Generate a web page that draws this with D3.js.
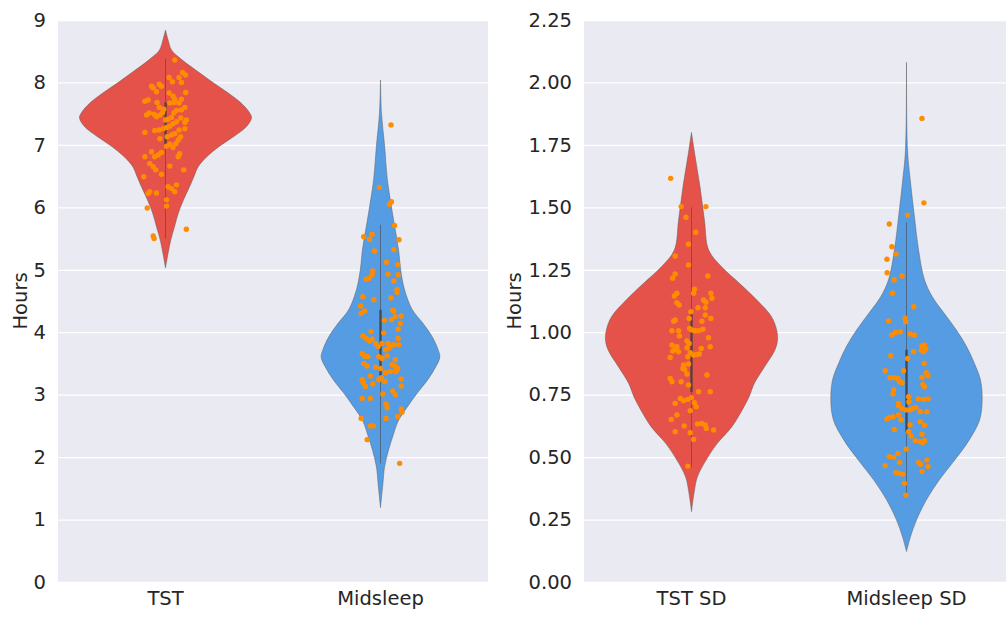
<!DOCTYPE html>
<html>
<head>
<meta charset="utf-8">
<script src="https://cdn.jsdelivr.net/npm/d3@7"></script>
<style>
  body { margin: 0; background: #fff; }
  text { font-family: "DejaVu Sans", sans-serif; fill: #262626; }
</style>
</head>
<body>
<script>
// categories and ticks
var leftCategories = ["TST", "Midsleep"];
var rightCategories = ["TST SD", "Midsleep SD"];
var leftTicks = [0, 1, 2, 3, 4, 5, 6, 7, 8, 9];
var rightTicks = [0, 0.25, 0.5, 0.75, 1, 1.25, 1.5, 1.75, 2, 2.25];

// violin outlines: [value, relative half width]
var tstShape = [[8.84, 0], [8.68, 0.03], [8.52, 0.07], [8.41, 0.15], [8.31, 0.24], [8.15, 0.4], [7.99, 0.56], [7.83, 0.73], [7.67, 0.88], [7.51, 0.98], [7.43, 1.0], [7.29, 0.94], [7.13, 0.79], [6.97, 0.62], [6.81, 0.48], [6.65, 0.38], [6.49, 0.33], [6.33, 0.28], [6.12, 0.21], [5.91, 0.15], [5.69, 0.105], [5.48, 0.062], [5.27, 0.031], [5.03, 0]];
var midShape = [[8.04, 0], [7.5, 0.012], [7.0, 0.047], [6.44, 0.08], [5.9, 0.14], [5.32, 0.21], [5.0, 0.235], [4.68, 0.28], [4.36, 0.37], [4.15, 0.49], [3.93, 0.6], [3.72, 0.67], [3.6, 0.69], [3.44, 0.64], [3.24, 0.55], [3.03, 0.43], [2.8, 0.31], [2.59, 0.21], [2.32, 0.14], [2.11, 0.093], [1.84, 0.047], [1.59, 0.029], [1.19, 0]];
var tstSdShape = [[1.8, 0], [1.72, 0.035], [1.58, 0.1], [1.45, 0.15], [1.329, 0.2], [1.262, 0.35], [1.195, 0.56], [1.129, 0.76], [1.062, 0.93], [1.009, 0.99], [0.969, 1.0], [0.929, 0.97], [0.862, 0.85], [0.795, 0.73], [0.742, 0.67], [0.689, 0.59], [0.622, 0.47], [0.555, 0.3], [0.488, 0.17], [0.422, 0.07], [0.368, 0.035], [0.282, 0]];
var midSdShape = [[2.08, 0], [1.73, 0.012], [1.6, 0.047], [1.46, 0.093], [1.33, 0.14], [1.209, 0.21], [1.142, 0.3], [1.075, 0.44], [1.009, 0.58], [0.942, 0.7], [0.875, 0.79], [0.809, 0.86], [0.729, 0.88], [0.649, 0.85], [0.569, 0.73], [0.488, 0.56], [0.408, 0.38], [0.328, 0.23], [0.248, 0.116], [0.182, 0.047], [0.122, 0]];

// inner box: whisker low, q1, q3, whisker high
var tstBox = [5.5, 6.95, 7.68, 8.38];
var midBox = [1.9, 3.3, 4.36, 5.72];
var tstSdBox = [0.46, 0.76, 1.077, 1.5];
var midSdBox = [0.35, 0.6, 0.93, 1.44];

// strip plot values and their jitter (in category units)
var tstHours = [8.36, 8.16, 8.12, 8.08, 8.08, 8.01, 8.0, 7.94, 7.97, 7.94, 7.91, 7.85, 7.84, 7.83, 7.78, 7.73, 7.73, 7.7, 7.72, 7.68, 7.67, 7.68, 7.67, 7.48, 7.51, 7.49, 7.45, 7.48, 7.52, 7.6, 7.57, 7.6, 7.56, 7.55, 7.51, 7.44, 7.41, 7.4, 7.43, 7.4, 7.36, 7.37, 7.34, 7.3, 7.28, 7.26, 7.24, 7.23, 7.2, 7.26, 7.24, 7.18, 7.16, 7.13, 7.1, 7.13, 7.08, 7.02, 7.01, 6.98, 6.96, 6.88, 6.84, 6.89, 6.81, 6.81, 6.86, 6.81, 6.7, 6.65, 6.6, 6.53, 6.66, 6.6, 6.49, 6.33, 6.3, 6.36, 6.25, 6.25, 6.22, 6.23, 6.12, 6.02, 5.99, 5.65, 5.54, 5.5];
var tstJitter = [0.043, 0.079, 0.093, 0.063, 0.017, 0.032, 0.074, -0.065, -0.029, -0.019, -0.057, -0.042, 0.094, 0.017, 0.035, 0.043, 0.074, -0.096, -0.081, -0.039, 0.02, 0.04, 0.063, -0.088, -0.076, -0.053, -0.042, -0.026, -0.014, -0.029, -0.008, 0.09, 0.074, 0.051, 0.039, 0.028, 0.012, 0.0, 0.071, 0.097, 0.09, 0.051, 0.035, 0.02, 0.005, -0.011, -0.029, -0.05, -0.096, 0.09, 0.063, 0.043, 0.028, 0.008, -0.026, 0.07, 0.059, 0.048, 0.02, 0.005, 0.035, -0.019, -0.034, -0.065, -0.096, -0.05, 0.066, 0.059, -0.073, -0.057, -0.045, -0.019, 0.02, 0.085, -0.101, 0.012, 0.028, 0.051, 0.043, -0.073, -0.081, -0.042, 0.005, 0.005, -0.085, 0.097, -0.057, -0.053];

var midHours = [7.32, 6.32, 6.05, 6.09, 5.71, 5.53, 5.57, 5.49, 5.48, 5.3, 5.32, 5.12, 5.08, 4.98, 4.92, 4.93, 4.92, 4.85, 4.86, 4.82, 4.68, 4.64, 4.57, 4.52, 4.55, 4.42, 4.34, 4.3, 4.35, 4.34, 4.25, 4.26, 4.19, 4.14, 4.2, 4.05, 4.01, 3.99, 3.94, 3.9, 3.86, 3.89, 3.82, 3.77, 3.82, 3.82, 3.77, 3.8, 3.9, 3.8, 3.72, 3.74, 3.66, 3.62, 3.61, 3.61, 3.58, 3.62, 3.56, 3.5, 3.46, 3.44, 3.42, 3.35, 3.37, 3.48, 3.45, 3.42, 3.37, 3.3, 3.24, 3.27, 3.21, 3.24, 3.19, 3.25, 3.14, 3.17, 3.13, 3.01, 3.06, 3.0, 2.94, 2.94, 2.85, 2.79, 2.77, 2.72, 2.62, 2.62, 2.65, 2.5, 2.5, 2.28, 1.9];
var midJitter = [0.049, -0.005, 0.042, 0.051, 0.065, -0.078, -0.039, -0.051, 0.086, -0.028, 0.062, 0.028, 0.08, -0.036, -0.039, 0.035, 0.082, -0.067, -0.054, 0.062, 0.077, 0.077, -0.082, -0.031, 0.049, -0.093, -0.074, -0.09, 0.057, 0.062, 0.069, 0.096, 0.018, 0.093, 0.051, 0.082, -0.044, 0.015, -0.082, -0.067, -0.051, -0.039, -0.023, -0.011, 0.007, 0.035, 0.046, 0.062, 0.082, 0.085, 0.023, 0.038, -0.085, -0.074, -0.059, -0.008, 0.007, 0.031, 0.069, -0.078, -0.062, -0.023, 0.0, 0.023, 0.046, 0.054, 0.069, 0.08, 0.072, -0.047, -0.008, 0.004, 0.02, -0.085, -0.081, 0.096, 0.097, -0.036, -0.07, 0.011, 0.057, 0.069, -0.085, -0.047, 0.026, 0.031, 0.097, 0.1, -0.09, 0.026, 0.08, -0.047, -0.034, -0.062, 0.089];

var tstSdHours = [1.616, 1.503, 1.503, 1.46, 1.4, 1.352, 1.305, 1.269, 1.225, 1.216, 1.233, 1.172, 1.156, 1.156, 1.145, 1.156, 1.136, 1.129, 1.12, 1.118, 1.109, 1.098, 1.098, 1.082, 1.069, 1.055, 1.044, 1.049, 1.055, 1.044, 1.006, 1.006, 1.015, 1.009, 1.006, 1.006, 1.012, 0.985, 0.978, 0.965, 0.955, 0.949, 0.942, 0.938, 0.935, 0.942, 0.925, 0.931, 0.922, 0.918, 0.909, 0.911, 0.913, 0.899, 0.902, 0.869, 0.873, 0.855, 0.851, 0.833, 0.829, 0.815, 0.802, 0.802, 0.789, 0.762, 0.762, 0.735, 0.726, 0.731, 0.738, 0.715, 0.718, 0.702, 0.686, 0.669, 0.651, 0.633, 0.635, 0.629, 0.615, 0.625, 0.609, 0.602, 0.598, 0.571, 0.464];
var tstSdJitter = [-0.097, -0.048, 0.067, -0.026, 0.02, -0.014, -0.076, -0.014, 0.076, -0.088, -0.076, 0.014, 0.01, 0.09, -0.08, -0.068, 0.095, 0.056, 0.067, -0.068, -0.057, 0.03, 0.064, -0.003, 0.064, 0.09, -0.083, -0.076, -0.011, 0.048, -0.091, -0.06, -0.009, 0.002, 0.017, 0.033, 0.053, -0.056, 0.079, -0.021, -0.011, -0.091, -0.068, -0.021, 0.045, 0.087, -0.087, -0.076, -0.06, -0.006, 0.01, 0.025, 0.037, -0.099, -0.017, -0.037, -0.014, -0.04, -0.032, -0.021, 0.072, -0.099, -0.091, -0.048, -0.014, 0.033, 0.087, -0.052, -0.037, -0.017, -0.001, -0.076, 0.013, 0.022, -0.006, -0.068, -0.094, 0.028, 0.048, 0.064, 0.069, -0.034, 0.103, -0.076, -0.006, 0.01, -0.017];

var midSdHours = [1.856, 1.518, 1.469, 1.433, 1.342, 1.313, 1.292, 1.238, 1.209, 1.225, 1.156, 1.102, 1.045, 1.056, 1.042, 0.989, 0.999, 1.002, 0.993, 0.989, 0.946, 0.949, 0.933, 0.929, 0.922, 0.922, 0.906, 0.895, 0.875, 0.846, 0.846, 0.838, 0.826, 0.818, 0.818, 0.815, 0.802, 0.798, 0.819, 0.791, 0.782, 0.769, 0.753, 0.742, 0.733, 0.731, 0.733, 0.715, 0.721, 0.706, 0.695, 0.689, 0.689, 0.695, 0.699, 0.682, 0.682, 0.653, 0.659, 0.662, 0.669, 0.649, 0.642, 0.628, 0.63, 0.611, 0.602, 0.585, 0.566, 0.562, 0.558, 0.566, 0.592, 0.532, 0.502, 0.499, 0.515, 0.479, 0.471, 0.479, 0.466, 0.488, 0.462, 0.438, 0.435, 0.432, 0.442, 0.395, 0.348];
var midSdJitter = [0.072, 0.081, 0.005, -0.08, -0.068, -0.049, -0.091, -0.09, -0.057, -0.021, -0.065, 0.034, -0.083, -0.006, -0.004, -0.068, -0.052, -0.029, 0.017, 0.037, 0.072, 0.084, 0.09, 0.069, 0.079, 0.033, -0.073, 0.005, 0.082, -0.099, -0.014, 0.092, 0.1, -0.076, -0.056, -0.04, -0.032, -0.021, 0.072, 0.076, 0.084, -0.06, -0.063, 0.01, 0.056, 0.079, 0.1, -0.037, 0.011, -0.037, -0.021, -0.001, 0.017, 0.028, 0.044, 0.064, 0.095, -0.091, -0.079, -0.063, -0.037, -0.025, 0.064, 0.084, 0.017, -0.057, 0.01, 0.022, 0.041, 0.064, 0.075, 0.084, 0.072, -0.001, -0.08, -0.06, -0.04, 0.056, 0.065, -0.032, -0.099, 0.095, 0.1, -0.049, -0.037, -0.018, 0.072, -0.009, -0.003];

var red = "#e4524a";
var blue = "#559ce3";
var dotColor = "#ff8c00";

var w = 1006;
var h = 617;
var plotTop = 20;
var plotBottom = 582;
var plotWidth = 430;

var svg = d3.select("body")
  .append("svg")
  .attr("width", w)
  .attr("height", h);

svg.append("rect")
  .attr("width", w)
  .attr("height", h)
  .attr("fill", "#ffffff");

drawPanel(58, 27, leftCategories, [0, 9], leftTicks, d3.format("d"), [
  {shape: tstShape, box: tstBox, values: tstHours, jitter: tstJitter, color: red},
  {shape: midShape, box: midBox, values: midHours, jitter: midJitter, color: blue}
]);

drawPanel(584, 521, rightCategories, [0, 2.25], rightTicks, d3.format(".2f"), [
  {shape: tstSdShape, box: tstSdBox, values: tstSdHours, jitter: tstSdJitter, color: red},
  {shape: midSdShape, box: midSdBox, values: midSdHours, jitter: midSdJitter, color: blue}
]);

function drawPanel(left, labelX, categories, domain, ticks, fmt, groups) {
  var g = svg.append("g");

  var xScale = d3.scaleBand()
    .domain(categories)
    .range([left, left + plotWidth]);

  var yScale = d3.scaleLinear()
    .domain(domain)
    .range([plotBottom, plotTop]);

  // half width of a violin in px
  var widthScale = d3.scaleLinear()
    .domain([0, 1])
    .range([0, xScale.bandwidth() * 0.4]);

  // grey background
  g.append("rect")
    .attr("x", left)
    .attr("y", plotTop)
    .attr("width", plotWidth)
    .attr("height", plotBottom - plotTop)
    .attr("fill", "#eaeaf2");

  // white gridlines
  g.append("g")
    .attr("transform", "translate(" + left + ",0)")
    .call(d3.axisLeft(yScale).tickValues(ticks).tickSize(-plotWidth).tickFormat(""))
    .call(function(a) { a.select(".domain").remove(); })
    .selectAll("line")
    .attr("stroke", "#ffffff")
    .attr("stroke-width", 1.3);

  // y tick labels
  var yAxis = g.append("g")
    .attr("transform", "translate(" + left + ",0)")
    .call(d3.axisLeft(yScale).tickValues(ticks).tickSize(0).tickPadding(12).tickFormat(fmt));
  yAxis.select(".domain").remove();
  yAxis.selectAll("text")
    .style("font-size", "19.5px")
    .attr("fill", "#262626");

  // x tick labels
  var xAxis = g.append("g")
    .attr("transform", "translate(0," + plotBottom + ")")
    .call(d3.axisBottom(xScale).tickSize(0).tickPadding(9));
  xAxis.select(".domain").remove();
  xAxis.selectAll("text")
    .style("font-size", "19.5px")
    .attr("fill", "#262626");

  // y label
  g.append("text")
    .attr("transform", "translate(" + labelX + "," + ((plotTop + plotBottom) / 2) + ") rotate(-90)")
    .attr("text-anchor", "middle")
    .style("font-size", "19.5px")
    .text("Hours");

  groups.forEach(function(grp, i) {
    var cx = xScale(categories[i]) + xScale.bandwidth() / 2;

    var area = d3.area()
      .curve(d3.curveCatmullRom.alpha(0.5))
      .y(function(d) { return yScale(d[0]); })
      .x0(function(d) { return cx - widthScale(d[1]); })
      .x1(function(d) { return cx + widthScale(d[1]); });

    // violin body
    g.append("path")
      .datum(grp.shape)
      .attr("d", area)
      .attr("fill", grp.color)
      .attr("stroke", "#5a5a5a")
      .attr("stroke-opacity", 0.6)
      .attr("stroke-width", 0.8);

    // inner box: whisker then quartiles
    g.append("line")
      .attr("x1", cx).attr("x2", cx)
      .attr("y1", yScale(grp.box[0]))
      .attr("y2", yScale(grp.box[3]))
      .attr("stroke", "#4a4a4a")
      .attr("stroke-opacity", 0.6)
      .attr("stroke-width", 1);

    g.append("line")
      .attr("x1", cx).attr("x2", cx)
      .attr("y1", yScale(grp.box[1]))
      .attr("y2", yScale(grp.box[2]))
      .attr("stroke", "#3d3d3d")
      .attr("stroke-opacity", 0.75)
      .attr("stroke-width", 2.5);

    // strip plot dots
    g.append("g")
      .selectAll("circle")
      .data(grp.values)
      .enter()
      .append("circle")
      .attr("cx", function(d, k) { return cx + grp.jitter[k] * xScale.bandwidth(); })
      .attr("cy", function(d) { return yScale(d); })
      .attr("r", 2.7)
      .attr("fill", dotColor);
  });
}
</script>
</body>
</html>
